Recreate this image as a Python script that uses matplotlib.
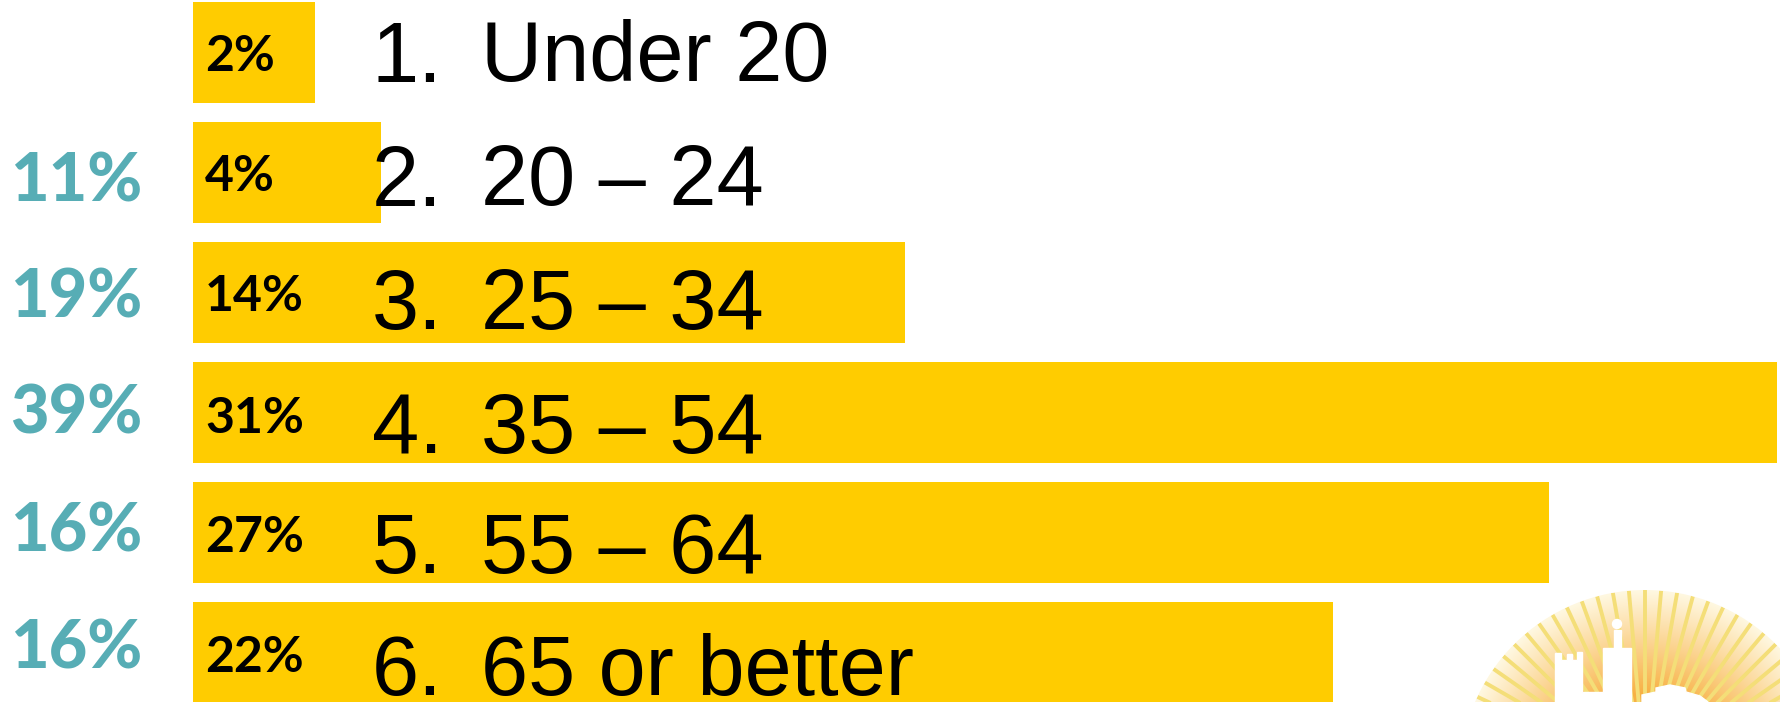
import numpy as np
import matplotlib
matplotlib.use("Agg")
import matplotlib.pyplot as plt
from matplotlib.patches import Circle, Polygon, Rectangle

categories = ["Under 20", "20 – 24", "25 – 34", "35 – 54", "55 – 64", "65 or better"]
numbers = ["1.", "2.", "3.", "4.", "5.", "6."]
bar_values = [2.36, 3.66, 13.82, 30.75, 26.33, 22.14]
bar_labels = ["2%", "4%", "14%", "31%", "27%", "22%"]
side_labels = ["", "11%", "19%", "39%", "16%", "16%"]

W, H = 1781, 702
YELLOW = "#FFCC00"
TEAL = "#57ADB5"

fig = plt.figure(figsize=(W / 100, H / 100), dpi=100)

# logo behind everything, drawn in pixel coordinates
logo = fig.add_axes([0, 0, 1, 1], zorder=1)
logo.axis("off")
cx, cy, r = 1645, 775, 185
xx, yy = np.meshgrid(np.arange(1440, 1781), np.arange(585, 702))
rr = np.hypot(xx - cx, yy - cy) / r
inner = np.array([248, 178, 70]) / 255
outer = np.array([255, 248, 225]) / 255
t = np.clip((rr - 0.45) / 0.55, 0, 1)[..., None]
img = inner * (1 - t) + outer * t
im = logo.imshow(img, extent=(1440, 1781, 702, 585), aspect="auto", zorder=1)
logo.set_xlim(0, W)
logo.set_ylim(H, 0)
disc = Circle((cx, cy), r, transform=logo.transData)
im.set_clip_path(disc)
for a in np.arange(0, 360, 5.0):
    ca, sa = np.cos(np.radians(a)), np.sin(np.radians(a))
    line, = logo.plot([cx + 30 * ca, cx + r * ca], [cy + 30 * sa, cy + r * sa],
                      color="#F4DE78", lw=2.8, solid_capstyle="butt", zorder=2)
    line.set_clip_path(disc)
white = "white"
logo.add_patch(Polygon([(1555, 702), (1555, 653), (1561, 653), (1561, 660), (1567, 660), (1567, 654),
                        (1572, 654), (1572, 660), (1577, 660), (1577, 652), (1582, 652), (1582, 692),
                        (1603, 692), (1603, 648), (1631, 648), (1631, 702)], color=white, zorder=3))
logo.add_patch(Rectangle((1614, 630), 7, 20, color=white, zorder=3))
logo.add_patch(Circle((1617, 624), 4.5, color=white, zorder=3))
logo.add_patch(Polygon([(1642, 702), (1642, 695), (1656, 692), (1656, 688), (1670, 685), (1685, 688),
                        (1686, 692), (1700, 696), (1708, 702)], color=white, zorder=3))

# x scale: 0 at 193 px, 51.5 px per percent point
ax = fig.add_axes([0, 0, 1, 1], zorder=2)
ax.patch.set_alpha(0)
ax.set_xlim(-193 / 51.5, (W - 193) / 51.5)
ax.set_ylim((H - 52.5) / 120, -52.5 / 120)
ax.axis("off")
y = np.arange(len(categories))
ax.barh(y, bar_values, height=0.84, color=YELLOW)

# per row baseline offsets (px below the bar centre)
text_base = [29, 33, 36, 41, 40, 43]
bar_mid = [4, 4, 4, 6, 5, 5]
side_mid = [0, 10, 6, 2, 0, -3]

for i in y:
    ax.annotate(numbers[i], (0, i), xytext=(179, -text_base[i]), textcoords="offset pixels",
                ha="left", va="baseline", fontsize=61, family="Liberation Sans", color="black")
    ax.annotate(categories[i], (0, i), xytext=(288, -text_base[i]), textcoords="offset pixels",
                ha="left", va="baseline", fontsize=61, family="Liberation Sans", color="black")
    ax.annotate(bar_labels[i], (0, i), xytext=(12, -bar_mid[i]), textcoords="offset pixels",
                ha="left", va="center", fontsize=36, family="Lato", weight="bold", color="black")
    if side_labels[i]:
        ax.annotate(side_labels[i], (0, i), xytext=(-183, -side_mid[i]), textcoords="offset pixels",
                    ha="left", va="center", fontsize=48, family="Lato", weight=900, color=TEAL,
                    annotation_clip=False)

fig.savefig("out.png", dpi=100)
